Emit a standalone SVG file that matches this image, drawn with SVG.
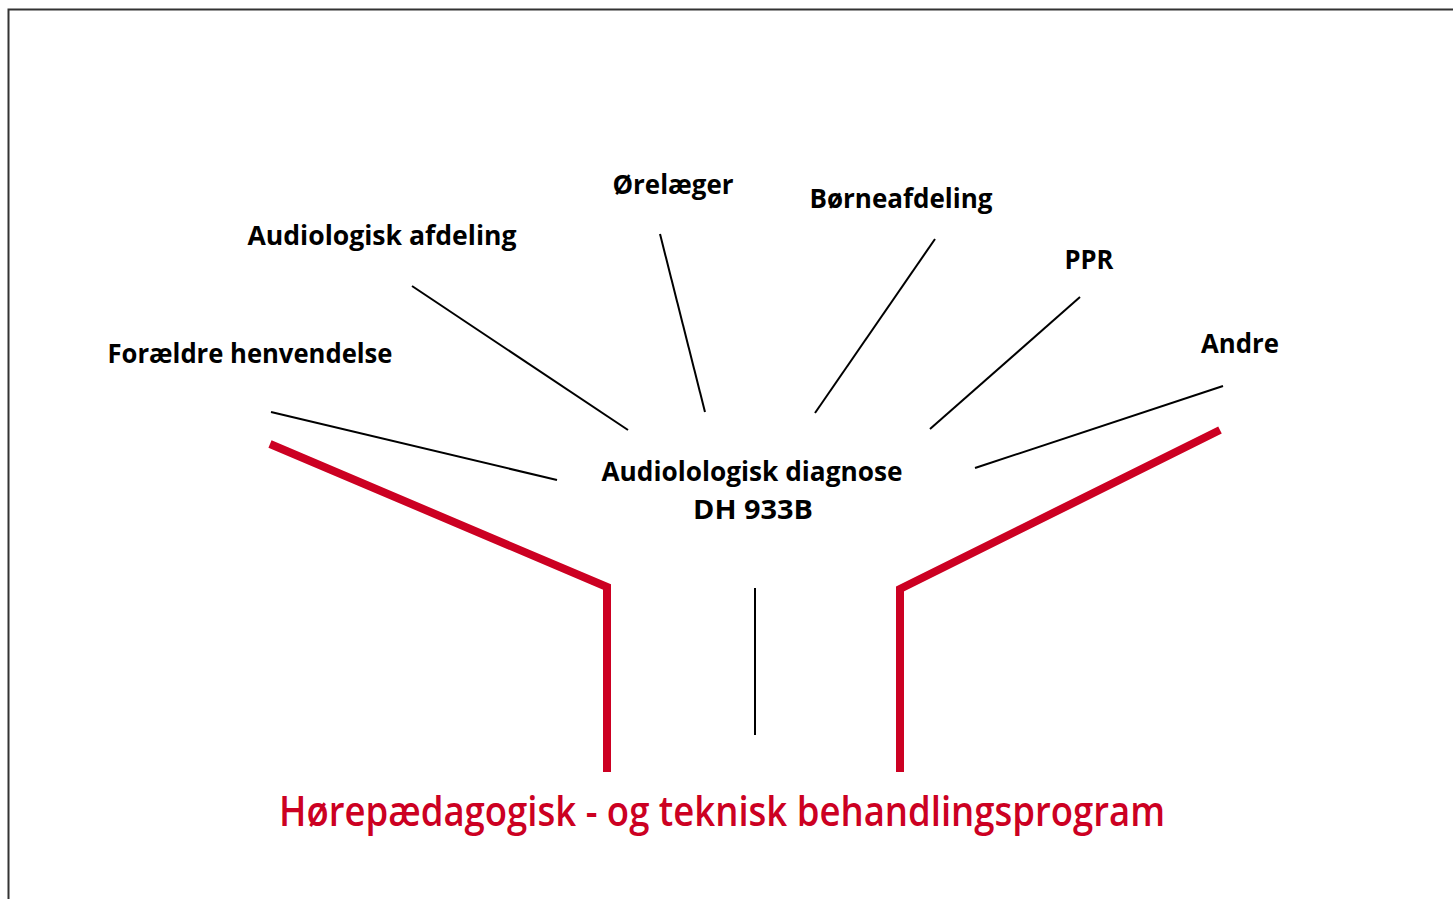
<svg xmlns="http://www.w3.org/2000/svg" width="1453" height="899" viewBox="0 0 1453 899">
<style>
.lbl{font-family:"Open Sans","DejaVu Sans",sans-serif;font-weight:700;font-size:26px;fill:#000;text-anchor:middle}
.title{font-family:"Open Sans","DejaVu Sans",sans-serif;font-weight:600;font-size:41px;fill:#CC0022;text-anchor:middle}
.thin{stroke:#000;stroke-width:2;fill:none}
.red{stroke:#CC0022;stroke-width:8;fill:none;stroke-linejoin:miter}
</style>
<rect width="1453" height="899" fill="#fff"/>
<path d="M8.5 899 V9.5 H1453" fill="none" stroke="#333" stroke-width="2"/>
<g id="connectors">
<line class="thin" x1="271" y1="412" x2="557" y2="480"/>
<line class="thin" x1="412" y1="286" x2="628" y2="430"/>
<line class="thin" x1="660" y1="234" x2="705" y2="412"/>
<line class="thin" x1="935" y1="239" x2="815" y2="413"/>
<line class="thin" x1="1080" y1="297" x2="930" y2="429"/>
<line class="thin" x1="1223" y1="386" x2="975" y2="468"/>
<line class="thin" x1="755" y1="588" x2="755" y2="735"/>
<path class="red" d="M270 444 L607 587 V772"/>
<path class="red" d="M1220 430 L900 589 V772"/>
</g>
<g id="n-foraeldre"><text class="lbl" x="250" y="363" textLength="285" lengthAdjust="spacingAndGlyphs">Forældre henvendelse</text></g>
<g id="n-audafd"><text class="lbl" x="382" y="245" textLength="269" lengthAdjust="spacingAndGlyphs">Audiologisk afdeling</text></g>
<g id="n-orelaeger"><text class="lbl" x="673" y="194" textLength="121" lengthAdjust="spacingAndGlyphs">Ørelæger</text></g>
<g id="n-borne"><text class="lbl" x="901" y="208" textLength="183" lengthAdjust="spacingAndGlyphs">Børneafdeling</text></g>
<g id="n-ppr"><text class="lbl" x="1089" y="269" textLength="49" lengthAdjust="spacingAndGlyphs">PPR</text></g>
<g id="n-andre"><text class="lbl" x="1240" y="353" textLength="78" lengthAdjust="spacingAndGlyphs">Andre</text></g>
<g id="n-diagnose"><text class="lbl" x="752" y="481" textLength="301" lengthAdjust="spacingAndGlyphs">Audiolologisk diagnose</text><text class="lbl" x="753" y="519" textLength="120" lengthAdjust="spacingAndGlyphs">DH 933B</text></g>
<g id="n-program"><text class="title" x="722" y="826" textLength="886" lengthAdjust="spacingAndGlyphs">Hørepædagogisk - og teknisk behandlingsprogram</text></g>
</svg>
